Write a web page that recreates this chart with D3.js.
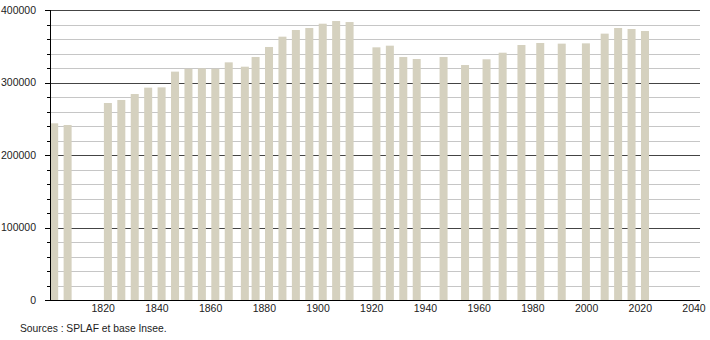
<!DOCTYPE html>
<html>
<head>
<meta charset="utf-8">
<script src="https://cdn.jsdelivr.net/npm/d3@7"></script>
<style>
  body { margin: 0; background: #fff; }
  svg { font-family: "Liberation Sans", Arial, sans-serif; }
</style>
</head>
<body>
<svg id="chart" width="710" height="340"></svg>
<script>
var years = [1801, 1806, 1821, 1826, 1831, 1836, 1841, 1846, 1851, 1856, 1861, 1866,
             1872, 1876, 1881, 1886, 1891, 1896, 1901, 1906, 1911, 1921, 1926, 1931,
             1936, 1946, 1954, 1962, 1968, 1975, 1982, 1990, 1999, 2006, 2011, 2016, 2021];
var population = [243700, 241400, 271700, 275900, 284100, 292900, 293300, 315000, 319000,
                  319500, 319000, 327800, 321800, 335200, 349000, 363200, 372400, 375200,
                  381100, 384800, 383400, 348500, 350800, 335200, 332400, 335200, 324100,
                  332000, 341100, 351700, 354500, 353600, 354000, 367400, 375200, 373800, 371000];
var xTicks = [1820, 1840, 1860, 1880, 1900, 1920, 1940, 1960, 1980, 2000, 2020, 2040];
var yTicks = [0, 100000, 200000, 300000, 400000];
var source = "Sources : SPLAF et base Insee.";

var svg = d3.select("#chart");

var x = d3.scaleLinear()
          .domain([1800, 2040])
          .range([51.5, 696]);

var y = d3.scaleLinear()
          .domain([0, 400000])
          .range([300, 10]);

var left = 50, right = 700;

// minor grid every 20000
var minor = d3.range(20000, 400000, 20000).filter(v => v % 100000 !== 0);
svg.append("g")
  .selectAll("line")
  .data(minor)
  .enter()
  .append("line")
    .attr("x1", left)
    .attr("x2", right)
    .attr("y1", d => Math.round(y(d)) + 0.5)
    .attr("y2", d => Math.round(y(d)) + 0.5)
    .attr("stroke", "#c6c6c6")
    .attr("stroke-width", 1);

// major grid
svg.append("g")
  .selectAll("line")
  .data(yTicks.slice(1))
  .enter()
  .append("line")
    .attr("x1", left)
    .attr("x2", right)
    .attr("y1", d => Math.round(y(d)) + 0.5)
    .attr("y2", d => Math.round(y(d)) + 0.5)
    .attr("stroke", "#444")
    .attr("stroke-width", 1);

// bars
var barW = 8;
svg.append("g")
  .selectAll("rect")
  .data(years)
  .enter()
  .append("rect")
    .attr("x", d => x(d) - barW / 2)
    .attr("width", barW)
    .attr("y", (d, i) => y(population[i]))
    .attr("height", (d, i) => y(0) - y(population[i]))
    .attr("fill", "#d5d1bf");

// y axis line and ticks
svg.append("line")
    .attr("x1", left + 0.5).attr("x2", left + 0.5)
    .attr("y1", y(400000)).attr("y2", y(0))
    .attr("stroke", "#000");

svg.append("g")
  .selectAll("line")
  .data(d3.range(0, 420000, 20000))
  .enter()
  .append("line")
    .attr("x1", d => d % 100000 === 0 ? left - 5 : left - 3)
    .attr("x2", left)
    .attr("y1", d => Math.round(y(d)) + 0.5)
    .attr("y2", d => Math.round(y(d)) + 0.5)
    .attr("stroke", "#000");

svg.append("g")
  .selectAll("text")
  .data(yTicks)
  .enter()
  .append("text")
    .attr("x", 36)
    .attr("y", d => y(d))
    .attr("dy", "0.35em")
    .attr("text-anchor", "end")
    .attr("font-size", "10.5px")
    .attr("fill", "#222")
    .text(d => d);

// x axis
svg.append("line")
    .attr("x1", left).attr("x2", right)
    .attr("y1", 300.5).attr("y2", 300.5)
    .attr("stroke", "#000");

svg.append("g")
  .selectAll("text")
  .data(xTicks)
  .enter()
  .append("text")
    .attr("x", d => x(d) - 2)
    .attr("y", 312)
    .attr("text-anchor", "middle")
    .attr("font-size", "10.5px")
    .attr("fill", "#222")
    .text(d => d);

svg.append("text")
    .attr("x", 20)
    .attr("y", 332)
    .attr("font-size", "10.3px")
    .attr("fill", "#222")
    .text(source);
</script>
</body>
</html>
